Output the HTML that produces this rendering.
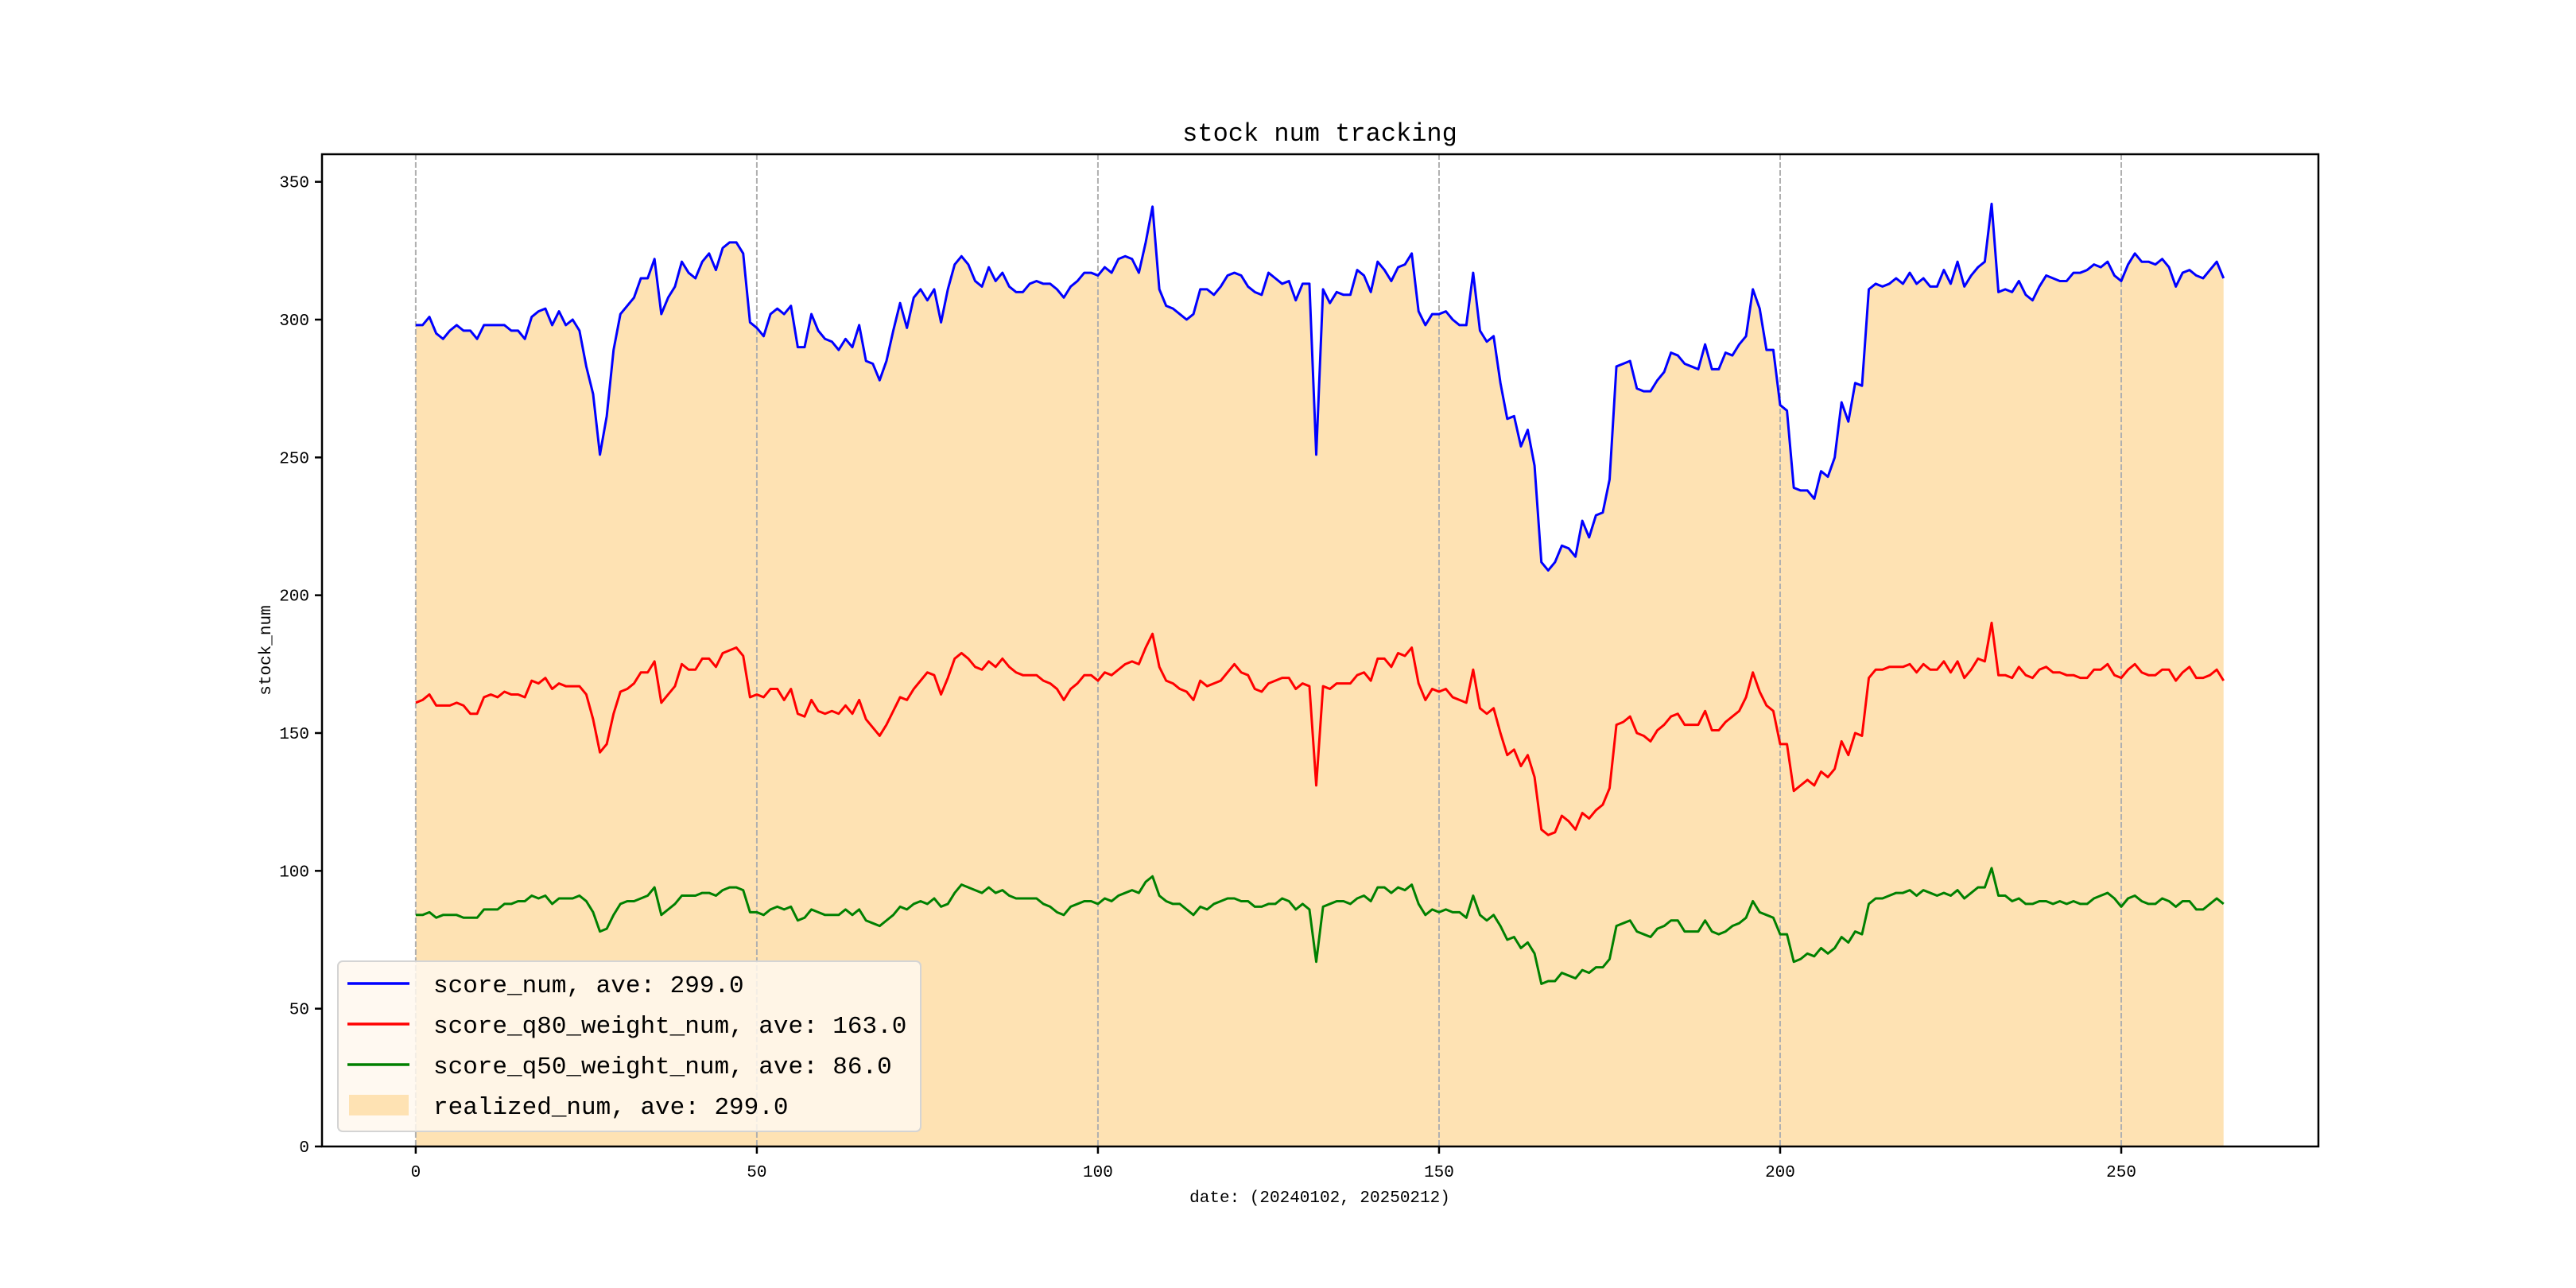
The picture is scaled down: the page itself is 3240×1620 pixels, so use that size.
<!DOCTYPE html>
<html><head><meta charset="utf-8"><title>stock num tracking</title>
<style>
html,body{margin:0;padding:0;background:#fff;}
svg{display:block;}
text{font-family:"Liberation Mono","WenQuanYi Zen Hei",monospace;fill:#000;}
</style></head>
<body>
<svg id="chart" xmlns="http://www.w3.org/2000/svg" width="3240" height="1620" viewBox="0 0 3240 1620">
<rect x="0" y="0" width="3240" height="1620" fill="#fff"/>
<text x="1660" y="177" font-size="32" text-anchor="middle">stock num tracking</text>
<g id="plot"></g>
<text x="1660" y="1512" font-size="21" text-anchor="middle">date: (20240102, 20250212)</text>
<text transform="translate(340,818) rotate(-90)" font-size="21" text-anchor="middle">stock_num</text>
</svg>
<script>
const scoreNum = [298,298,301,295,293,296,298,296,296,293,298,298,298,298,296,296,293,301,303,304,298,303,298,300,296,283,273,251,265,289,302,305,308,315,315,322,302,308,312,321,317,315,321,324,318,326,328,328,324,299,297,294,302,304,302,305,290,290,302,296,293,292,289,293,290,298,285,284,278,285,296,306,297,308,311,307,311,299,311,320,323,320,314,312,319,314,317,312,310,310,313,314,313,313,311,308,312,314,317,317,316,319,317,322,323,322,317,328,341,311,305,304,302,300,302,311,311,309,312,316,317,316,312,310,309,317,315,313,314,307,313,313,251,311,306,310,309,309,318,316,310,321,318,314,319,320,324,303,298,302,302,303,300,298,298,317,296,292,294,277,264,265,254,260,247,212,209,212,218,217,214,227,221,229,230,242,283,284,285,275,274,274,278,281,288,287,284,283,282,291,282,282,288,287,291,294,311,304,289,289,269,267,239,238,238,235,245,243,250,270,263,277,276,311,313,312,313,315,313,317,313,315,312,312,318,313,321,312,316,319,321,342,310,311,310,314,309,307,312,316,315,314,314,317,317,318,320,319,321,316,314,320,324,321,321,320,322,319,312,317,318,316,315,318,321,315];
const realizedNum = [298,298,301,295,293,296,298,296,296,293,298,298,298,298,296,296,293,301,303,304,298,303,298,300,296,283,273,251,265,289,302,305,308,315,315,322,302,308,312,321,317,315,321,324,318,326,328,328,324,299,297,294,302,304,302,305,290,290,302,296,293,292,289,293,290,298,285,284,278,285,296,306,297,308,311,307,311,299,311,320,323,320,314,312,319,314,317,312,310,310,313,314,313,313,311,308,312,314,317,317,316,319,317,322,323,322,317,328,341,311,305,304,302,300,302,311,311,309,312,316,317,316,312,310,309,317,315,313,314,307,313,313,251,311,306,310,309,309,318,316,310,321,318,314,319,320,324,303,298,302,302,303,300,298,298,317,296,292,294,277,264,265,254,260,247,212,209,212,218,217,214,227,221,229,230,242,283,284,285,275,274,274,278,281,288,287,284,283,282,291,282,282,288,287,291,294,311,304,289,289,269,267,239,238,238,235,245,243,250,270,263,277,276,311,313,312,313,315,313,317,313,315,312,312,318,313,321,312,316,319,321,342,310,311,310,314,309,307,312,316,315,314,314,317,317,318,320,319,321,316,314,320,324,321,321,320,322,319,312,317,318,316,315,318,321,315];
const q80Num = [161,162,164,160,160,160,161,160,157,157,163,164,163,165,164,164,163,169,168,170,166,168,167,167,167,164,155,143,146,157,165,166,168,172,172,176,161,164,167,175,173,173,177,177,174,179,180,181,178,163,164,163,166,166,162,166,157,156,162,158,157,158,157,160,157,162,155,152,149,153,158,163,162,166,169,172,171,164,170,177,179,177,174,173,176,174,177,174,172,171,171,171,169,168,166,162,166,168,171,171,169,172,171,173,175,176,175,181,186,174,169,168,166,165,162,169,167,168,169,172,175,172,171,166,165,168,169,170,170,166,168,167,131,167,166,168,168,168,171,172,169,177,177,174,179,178,181,168,162,166,165,166,163,162,161,173,159,157,159,150,142,144,138,142,134,115,113,114,120,118,115,121,119,122,124,130,153,154,156,150,149,147,151,153,156,157,153,153,153,158,151,151,154,156,158,163,172,165,160,158,146,146,129,131,133,131,136,134,137,147,142,150,149,170,173,173,174,174,174,175,172,175,173,173,176,172,176,170,173,177,176,190,171,171,170,174,171,170,173,174,172,172,171,171,170,170,173,173,175,171,170,173,175,172,171,171,173,173,169,172,174,170,170,171,173,169];
const q50Num = [84,84,85,83,84,84,84,83,83,83,86,86,86,88,88,89,89,91,90,91,88,90,90,90,91,89,85,78,79,84,88,89,89,90,91,94,84,86,88,91,91,91,92,92,91,93,94,94,93,85,85,84,86,87,86,87,82,83,86,85,84,84,84,86,84,86,82,81,80,82,84,87,86,88,89,88,90,87,88,92,95,94,93,92,94,92,93,91,90,90,90,90,88,87,85,84,87,88,89,89,88,90,89,91,92,93,92,96,98,91,89,88,88,86,84,87,86,88,89,90,90,89,89,87,87,88,88,90,89,86,88,86,67,87,88,89,89,88,90,91,89,94,94,92,94,93,95,88,84,86,85,86,85,85,83,91,84,82,84,80,75,76,72,74,70,59,60,60,63,62,61,64,63,65,65,68,80,81,82,78,77,76,79,80,82,82,78,78,78,82,78,77,78,80,81,83,89,85,84,83,77,77,67,68,70,69,72,70,72,76,74,78,77,88,90,90,91,92,92,93,91,93,92,91,92,91,93,90,92,94,94,101,91,91,89,90,88,88,89,89,88,89,88,89,88,88,90,91,92,90,87,90,91,89,88,88,90,89,87,89,89,86,86,88,90,88];
const xTicks = [0,50,100,150,200,250];
const yTicks = [0,50,100,150,200,250,300,350];
const legendLabels = ["score_num, ave: 299.0","score_q80_weight_num, ave: 163.0","score_q50_weight_num, ave: 86.0","realized_num, ave: 299.0"];

const AX_L=405, AX_R=2916, AX_T=194, AX_B=1442;
const X_MIN=-13.74, X_MAX=278.9, Y_MIN=0, Y_MAX=360;
function xScale(i){return AX_L+(i-X_MIN)/(X_MAX-X_MIN)*(AX_R-AX_L);}
function yScale(v){return AX_B-(v-Y_MIN)/(Y_MAX-Y_MIN)*(AX_B-AX_T);}
const NS="http://www.w3.org/2000/svg";
const plot=document.getElementById('plot');
function mk(tag,attrs,parent){const e=document.createElementNS(NS,tag);for(const k in attrs)e.setAttribute(k,attrs[k]);(parent||plot).appendChild(e);return e;}

// fill area
let d='M'+xScale(0)+','+yScale(0);
realizedNum.forEach((v,i)=>{d+=' L'+xScale(i).toFixed(2)+','+yScale(v).toFixed(2);});
d+=' L'+xScale(realizedNum.length-1)+','+yScale(0)+' Z';
const area=mk('path',{d:d,fill:'#fee2b3',stroke:'none'});



// grid
xTicks.forEach(t=>{
  const g=mk('line',{x1:xScale(t),x2:xScale(t),y1:AX_T,y2:AX_B,stroke:'#b0b0b0','stroke-width':2,'stroke-dasharray':'7,3'});
  
  
});

function drawLine(arr,color,name){
  let p='';arr.forEach((v,i)=>{p+=(i?' L':'M')+xScale(i).toFixed(2)+','+yScale(v).toFixed(2);});
  const el=mk('path',{d:p,fill:'none',stroke:color,'stroke-width':3,'stroke-linejoin':'round'});
  
  
}
drawLine(scoreNum,'#0000ff','score-num-line');
drawLine(q80Num,'#ff0000','score-q80-line');
drawLine(q50Num,'#008000','score-q50-line');

// axes frame
const frame=mk('rect',{x:AX_L,y:AX_T,width:AX_R-AX_L,height:AX_B-AX_T,fill:'none',stroke:'#000','stroke-width':2.5});



xTicks.forEach(t=>{
  const tk=mk('line',{x1:xScale(t),x2:xScale(t),y1:AX_B,y2:AX_B+9,stroke:'#000','stroke-width':2.5});
  
  
  const tl=mk('text',{x:xScale(t),y:AX_B+38,'font-size':21,'text-anchor':'middle'});
  tl.textContent=String(t);
  
  
});
yTicks.forEach(t=>{
  const tk=mk('line',{x1:AX_L-9,x2:AX_L,y1:yScale(t),y2:yScale(t),stroke:'#000','stroke-width':2.5});
  
  
  const tl=mk('text',{x:AX_L-16,y:yScale(t)+7,'font-size':21,'text-anchor':'end'});
  tl.textContent=String(t);
  
  
});

// legend
const lg=mk('g',{});


const lbox=mk('rect',{x:425,y:1209,width:733,height:214,rx:6,fill:'#fff8ee','fill-opacity':0.85,stroke:'#d4d4d4','stroke-width':2},lg);


const colors=['#0000ff','#ff0000','#008000'];
const rowY=[1237,1288,1339,1390];
legendLabels.forEach((lab,k)=>{
  if(k<3){
    const h=mk('line',{x1:437,x2:515,y1:rowY[k],y2:rowY[k],stroke:colors[k],'stroke-width':3.5},lg);
    
    
  } else {
    const h=mk('rect',{x:439,y:rowY[k]-13,width:75,height:26,fill:'#fee2b3'},lg);
    
    
  }
  const t=mk('text',{x:545,y:rowY[k]+11,'font-size':31},lg);
  t.textContent=lab;
  
  
});
</script>
</body></html>
